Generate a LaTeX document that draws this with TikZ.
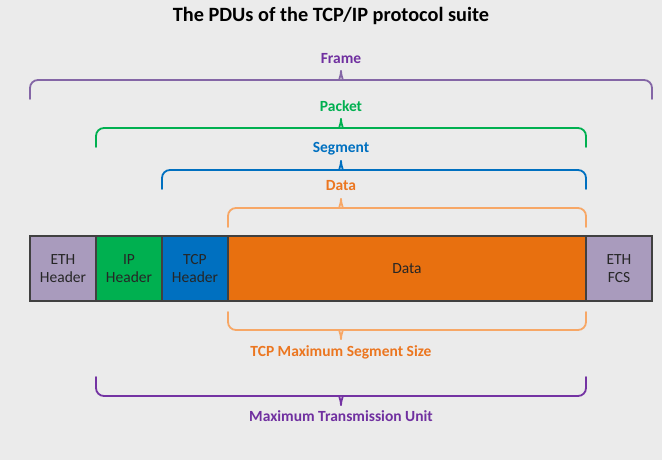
\documentclass[tikz,border=0pt]{standalone}
\usepackage{fontspec}
\setmainfont{Carlito}
\definecolor{bg}{HTML}{EBEBEB}
\definecolor{ethc}{HTML}{A99BBD}
\definecolor{ipc}{HTML}{00B050}
\definecolor{tcpc}{HTML}{0070C0}
\definecolor{datac}{HTML}{E8700F}
\definecolor{framebr}{HTML}{8466A6}
\definecolor{framelab}{HTML}{7030A0}
\definecolor{mtubr}{HTML}{7433A3}
\definecolor{databr}{HTML}{F7A766}
\definecolor{datalab}{HTML}{EB7620}
\definecolor{edge}{HTML}{404040}
\tikzset{
  pdubox/.style={draw=edge, line width=1.3pt, minimum width=66pt, minimum height=65pt, inner sep=0pt, align=center, font=\fontsize{15.5}{18}\selectfont, text=black!85},
  brlab/.style={font=\bfseries\fontsize{15.5}{17}\selectfont},
  brline/.style={line width=1.8pt, line cap=round}
}
% #1 color, #2 x1, #3 x2, #4 yend, #5 yline, #6 ytip, #7 xc
\newcommand\pdubrace[7]{%
  \draw[brline,#1,rounded corners=8pt] (#2,#4) -- (#2,#5) -- ({#7-9},#5) [sharp corners]
     .. controls ({#7-3},#5) and (#7,{#5+(#6-#5)*0.35}) .. (#7,#6);
  \draw[brline,#1,rounded corners=8pt] (#3,#4) -- (#3,#5) -- ({#7+9},#5) [sharp corners]
     .. controls ({#7+3},#5) and (#7,{#5+(#6-#5)*0.35}) .. (#7,#6);
}
\begin{document}
\begin{tikzpicture}[x=1pt,y=-1pt]
\fill[bg] (0,0) rectangle (662,460);
\useasboundingbox (0,0) rectangle (662,460);
\node[font=\bfseries\fontsize{20.3}{23}\selectfont] (title) at (331,16) {The PDUs of the TCP/IP protocol suite};

\node[pdubox, fill=ethc] (eth) at (63,268.5) {ETH\\Header};
\node[pdubox, fill=ipc] (ip) at (129,268.5) {IP\\Header};
\node[pdubox, fill=tcpc] (tcp) at (195,268.5) {TCP\\Header};
\node[pdubox, fill=datac, minimum width=358pt] (data) at (407,268.5) {Data};
\node[pdubox, fill=ethc] (fcs) at (619,268.5) {ETH\\FCS};

\pdubrace{framebr}{30}{652}{99}{80}{71}{341}
\node[brlab, text=framelab] (lframe) at (341,59) {Frame};
\pdubrace{ipc}{96}{586}{147}{128}{119}{341}
\node[brlab, text=ipc] (lpacket) at (341,106) {Packet};
\pdubrace{tcpc}{162}{586}{189}{170}{161}{341}
\node[brlab, text=tcpc] (lsegment) at (341,149) {Segment};
\pdubrace{databr}{228}{586}{227}{208}{199}{341}
\node[brlab, text=datalab] (ldata) at (341,186) {Data};

\pdubrace{databr}{228}{586}{312}{330}{339}{341}
\node[brlab, text=datalab] (lmss) at (341,352) {TCP Maximum Segment Size};
\pdubrace{mtubr}{96}{586}{377}{396}{405}{341}
\node[brlab, text=framelab] (lmtu) at (341,416) {Maximum Transmission Unit};
\end{tikzpicture}
\end{document}
